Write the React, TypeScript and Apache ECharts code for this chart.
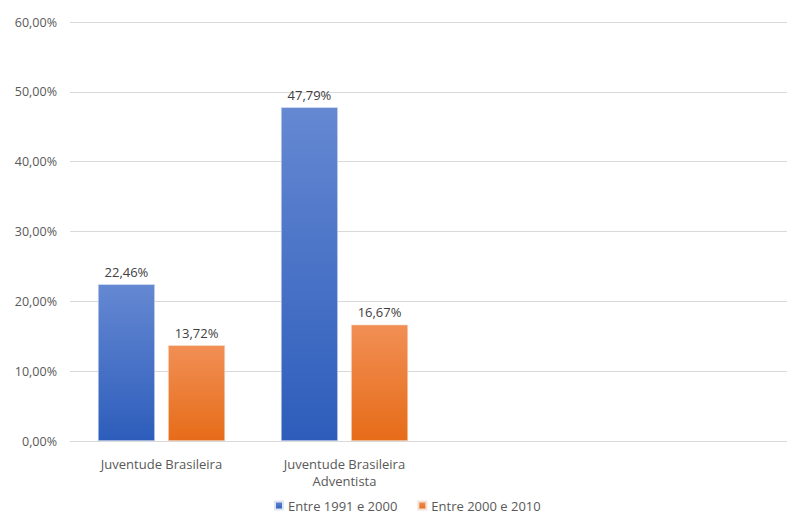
import React, { useEffect, useRef } from "react";
import * as echarts from "echarts";

const categories = ["Juventude Brasileira", "Juventude Brasileira\nAdventista", "", ""];
const seriesNames = ["Entre 1991 e 2000", "Entre 2000 e 2010"];
const values1991 = [22.46, 47.79, null, null];
const values2000 = [13.72, 16.67, null, null];

const fmt = (v: number) => v.toFixed(2).replace(".", ",") + "%";

export default function App() {
  const ref = useRef<HTMLDivElement>(null);
  useEffect(() => {
    if (!ref.current) return;
    const chart = echarts.init(ref.current, undefined, { renderer: "svg" });
    const font = "Open Sans";
    const blue = new echarts.graphic.LinearGradient(0, 0, 0, 1, [
      { offset: 0, color: "#6588d2" },
      { offset: 1, color: "#2d5dbb" },
    ]);
    const orange = new echarts.graphic.LinearGradient(0, 0, 0, 1, [
      { offset: 0, color: "#f18f55" },
      { offset: 1, color: "#e66c18" },
    ]);
    const label = {
      show: true,
      position: "top",
      distance: 6,
      color: "#404040",
      fontFamily: font,
      fontSize: 13,
      formatter: (p: any) => fmt(p.value),
    };
    chart.setOption({
      animation: false,
      grid: { left: 70, top: 22, width: 732, height: 419, containLabel: false },
      legend: {
        left: 274,
        top: 499,
        padding: 0,
        itemWidth: 8,
        itemHeight: 8,
        itemGap: 20,
        icon: "rect",
        textStyle: { color: "#595959", fontFamily: font, fontSize: 13 },
        data: seriesNames,
      },
      xAxis: {
        type: "category",
        data: categories,
        axisTick: { show: false },
        axisLine: { lineStyle: { color: "#d9d9d9", width: 1 } },
        axisLabel: {
          color: "#595959",
          fontFamily: font,
          fontSize: 13,
          interval: 0,
          margin: 14,
          lineHeight: 17,
        },
      },
      yAxis: {
        type: "value",
        min: 0,
        max: 60,
        interval: 10,
        axisLine: { show: false },
        axisTick: { show: false },
        splitLine: { lineStyle: { color: "#d9d9d9", width: 1 } },
        axisLabel: {
          color: "#595959",
          fontFamily: font,
          fontSize: 12.5,
          margin: 13,
          formatter: (v: number) => fmt(v),
        },
      },
      series: [
        {
          name: seriesNames[0],
          type: "bar",
          data: values1991,
          barWidth: 57,
          barGap: "23%",
          itemStyle: { color: blue, borderColor: "#dfe5f2", borderWidth: 0.6 },
          label,
        },
        {
          name: seriesNames[1],
          type: "bar",
          data: values2000,
          barWidth: 57,
          itemStyle: { color: orange, borderColor: "#f3e2d6", borderWidth: 0.6 },
          label,
        },
      ],
      color: ["#4472c4", "#ed7d31"],
    });
    return () => chart.dispose();
  }, []);
  return (
    <div style={{ width: 787, height: 513, position: "absolute", left: 0, top: 0, overflow: "hidden" }}>
      <div ref={ref} style={{ width: 803, height: 513 }} />
    </div>
  );
}
